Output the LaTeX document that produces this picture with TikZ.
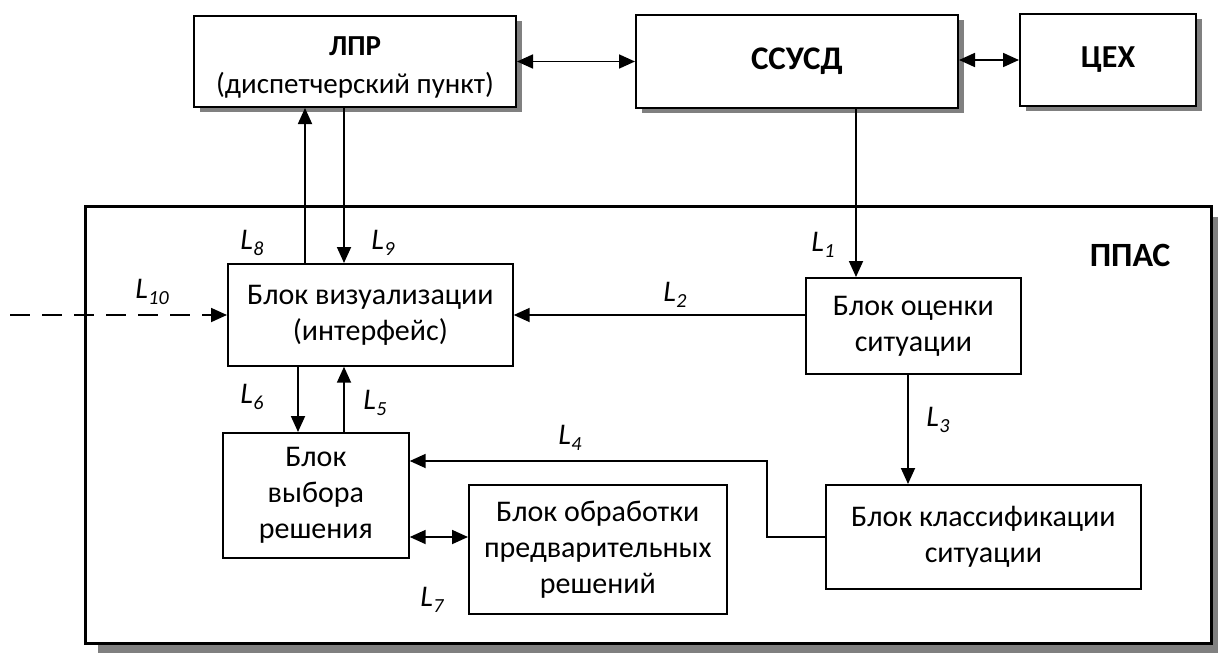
\documentclass[tikz,border=0pt]{standalone}
\usepackage{fontspec}
\setmainfont{Carlito}
\usetikzlibrary{arrows.meta,shadows}
\definecolor{shadowgray}{HTML}{808080}
\newcommand{\Lab}[1]{\textit{L}\kern0.5pt\raisebox{-0.22em}{\fontsize{20}{20}\selectfont\itshape #1}}
\begin{document}
\begin{tikzpicture}[x=1pt,y=-1pt,
  box/.style={draw, line width=1.7pt, fill=white, inner sep=0pt, anchor=north west,
    align=center, font=\fontsize{30}{36}\selectfont},
  topbox/.style={box, line width=2pt,
    drop shadow={shadow xshift=6pt, shadow yshift=-5pt, fill=shadowgray, opacity=1}},
  bigbox/.style={draw, line width=3pt, fill=white, inner sep=0pt, anchor=north west,
    drop shadow={shadow xshift=12pt, shadow yshift=-10pt, fill=shadowgray, opacity=1}},
  lab/.style={font=\fontsize{30}{30}\selectfont, inner sep=0pt},
  arr/.style={line width=1.8pt, -{Triangle[length=16pt,width=14pt]}},
  dbl/.style={line width=1.8pt, {Triangle[length=16pt,width=14pt]}-{Triangle[length=16pt,width=14pt]}}
]
\useasboundingbox (0,0) rectangle (1218,653);

% outer PPAS box
\node[bigbox, minimum width=1126, minimum height=437] (ppas) at (84,205) {};
\node[font=\fontsize{34}{34}\selectfont\bfseries] (ppaslab) at (1130,255) {ППАС};

% top boxes
\node[topbox, minimum width=322, minimum height=91, font=\fontsize{29}{38}\selectfont] (lpr) at (193,15)
  {\rule{0pt}{31pt}\textbf{ЛПР}\\(диспетчерский пункт)};
\node[topbox, minimum width=322, minimum height=93, font=\fontsize{33}{36}\selectfont\bfseries] (ssusd) at (635,14) {ССУСД};
\node[topbox, minimum width=176, minimum height=92, font=\fontsize{32}{36}\selectfont\bfseries] (tseh) at (1019,13) {ЦЕХ};

% inner blocks
\node[box, minimum width=285, minimum height=102] (vis) at (227,263) {Блок визуализации\\(интерфейс)};
\node[box, minimum width=215, minimum height=96] (ocenka) at (805,277) {Блок оценки\\ситуации};
\node[box, minimum width=315, minimum height=104] (klass) at (825,484) {Блок классификации\\ситуации};
\node[box, minimum width=186, minimum height=125] (vybor) at (222,432) {Блок\\выбора\\решения};
\node[box, minimum width=258, minimum height=129] (obr) at (468,484) {Блок обработки\\предварительных\\решений};

% helper coordinates
\coordinate (x1) at (856,0);
\coordinate (x3) at (908,0);
\coordinate (x4) at (767,0);
\coordinate (y4) at (0,461);
\coordinate (y4b) at (0,537);
\coordinate (x5) at (344,0);
\coordinate (x6) at (298,0);
\coordinate (x8) at (305,0);
\coordinate (x9) at (344,0);
\coordinate (y2) at (0,315);
\coordinate (d0) at (10,315);

% connectors
\draw[dbl] (lpr.east) -- (lpr.east -| ssusd.west);
\draw[dbl] (ssusd.east |- tseh.west) -- (tseh.west);
\draw[arr] (x1 |- ssusd.south) -- (x1 |- ocenka.north);
\draw[arr] (ocenka.west |- y2) -- (vis.east |- y2);
\draw[arr] (x3 |- ocenka.south) -- (x3 |- klass.north);
\draw[arr] (klass.west |- y4b) -- (x4 |- y4b) -- (x4 |- y4) -- (vybor.east |- y4);
\draw[arr] (x5 |- vybor.north) -- (x5 |- vis.south);
\draw[arr] (x6 |- vis.south) -- (x6 |- vybor.north);
\draw[dbl] (vybor.east |- y4b) -- (obr.west |- y4b);
\draw[arr] (x8 |- vis.north) -- (x8 |- lpr.south);
\draw[arr] (x9 |- lpr.south) -- (x9 |- vis.north);
\draw[line width=1.8pt, dash pattern=on 20pt off 12pt, -{Triangle[length=16pt,width=14pt]}] (d0) -- (vis.west |- d0);

% labels
\node[lab] (l1) at (823,245) {\Lab{1}};
\node[lab] (l2) at (675,295) {\Lab{2}};
\node[lab] (l3) at (938,420) {\Lab{3}};
\node[lab] (l4) at (570,438) {\Lab{4}};
\node[lab] (l5) at (375,403) {\Lab{5}};
\node[lab] (l6) at (252,397) {\Lab{6}};
\node[lab] (l7) at (432,600) {\Lab{7}};
\node[lab] (l8) at (252,243) {\Lab{8}};
\node[lab] (l9) at (383,243) {\Lab{9}};
\node[lab] (l10) at (152,292) {\Lab{10}};
\end{tikzpicture}
\end{document}
